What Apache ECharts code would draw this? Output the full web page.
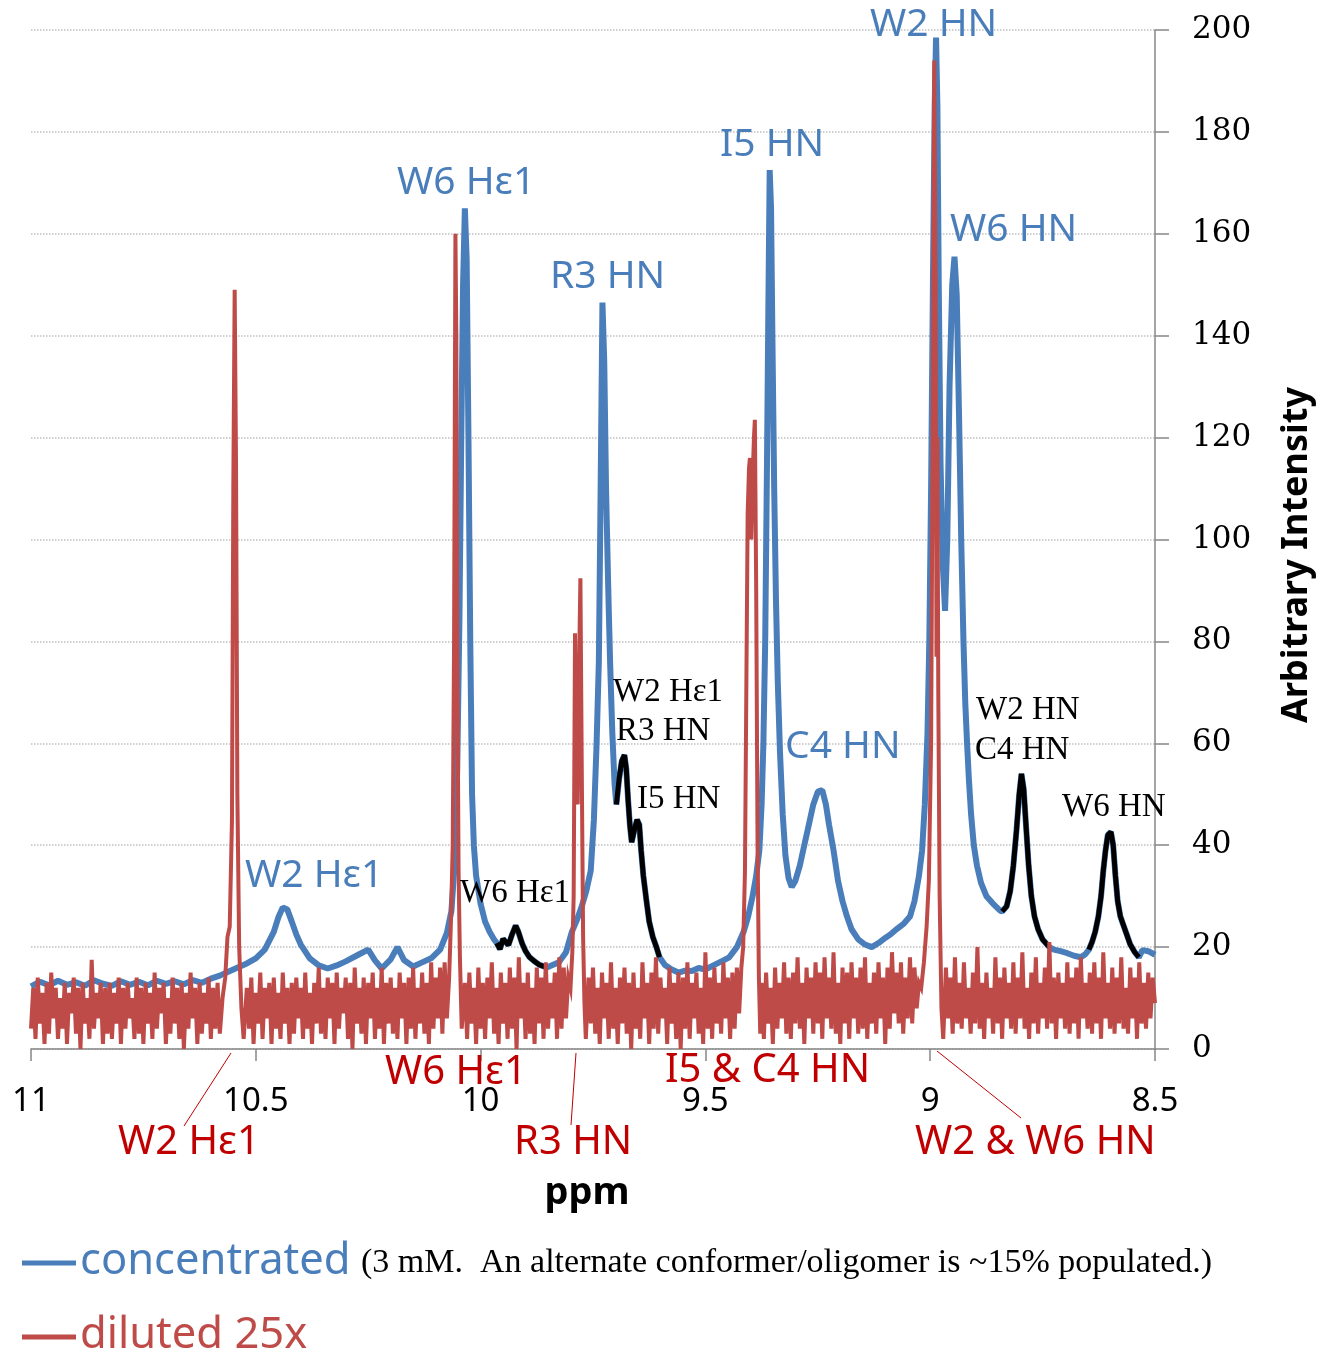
<!DOCTYPE html>
<html><head><meta charset="utf-8">
<script src="https://cdn.jsdelivr.net/npm/echarts@6/dist/echarts.min.js"></script>
<style>html,body{margin:0;padding:0;background:#fff}#chart{width:1331px;height:1354px}</style>
</head><body><div id="chart"></div>
<script>
// ---- axis settings (ppm, intensity) ----
const ppmRange = [8.5, 11];
const intensityRange = [0, 200];

// ---- concentrated spectrum (blue) [ppm, intensity] ----
const concentrated = [
[11.00,12.3],[10.98,13.2],[10.96,12.5],[10.94,13.4],[10.92,12.6],[10.90,13.1],[10.88,12.4],[10.86,13.5],[10.84,12.8],[10.82,12.4],
[10.80,13.3],[10.78,12.6],[10.76,13.2],[10.74,12.5],[10.72,13.4],[10.70,12.8],[10.68,13.3],[10.66,12.7],[10.64,13.5],[10.62,13.0],
[10.60,13.8],[10.58,14.4],[10.56,15.2],[10.54,16.0],[10.52,16.8],[10.50,17.8],[10.48,19.5],[10.46,23.0],[10.45,25.8],[10.44,27.8],
[10.43,27.4],[10.42,25.0],[10.41,22.5],[10.40,20.5],[10.38,17.8],[10.36,16.4],[10.34,15.8],[10.32,16.4],[10.30,17.2],[10.27,18.6],
[10.25,19.5],[10.235,17.4],[10.22,15.8],[10.20,17.6],[10.185,20.0],[10.17,17.4],[10.15,16.2],[10.13,17.0],[10.11,17.8],[10.09,19.5],
[10.075,22.8],[10.065,27],[10.058,36],[10.052,55],[10.047,85],[10.043,120],[10.039,150],[10.035,165],[10.031,155],[10.027,120],
[10.023,80],[10.019,50],[10.015,40],[10.01,34],[10.00,28.5],[9.99,25],[9.98,23],[9.97,21.5],[9.964,20.8],
[9.957,19.6],[9.950,21.6],[9.944,21.0],[9.938,20.4],[9.930,22.5],[9.922,24.2],[9.916,23.0],[9.908,20.8],[9.900,19.2],[9.891,18.0],
[9.880,17.2],[9.869,16.5],[9.853,16.0],
[9.84,16.5],[9.826,17.0],[9.81,19.0],[9.797,23],[9.785,25.5],[9.775,28],[9.765,31],[9.755,35],[9.748,45],[9.742,60],
[9.737,76],[9.733,110],[9.729,146.5],[9.725,135],[9.721,110],[9.716,90],[9.712,76],[9.707,62],[9.702,52],[9.698,48],
[9.692,53],[9.686,56.5],[9.680,57.7],[9.676,55],[9.672,49],[9.668,44],[9.664,40.6],[9.658,43],[9.652,45],[9.647,44],
[9.643,39],[9.638,34],[9.631,29],[9.625,25],[9.617,22],[9.609,20],[9.602,18],
[9.59,16.5],[9.575,15.6],[9.56,15.0],[9.545,15.4],[9.53,15.3],[9.515,15.9],[9.50,15.6],[9.48,16.5],[9.46,17.4],[9.447,18.0],
[9.43,20],[9.415,23],[9.405,26],[9.395,30],[9.387,34],[9.38,39],[9.375,48],[9.371,60],[9.367,80],[9.363,115],
[9.36,145],[9.357,172.5],[9.354,165],[9.351,140],[9.347,110],[9.343,88],[9.339,72],[9.334,58],[9.328,46],[9.322,38],
[9.315,33.5],[9.308,31.8],[9.30,33],[9.29,36],[9.28,40],[9.27,44],[9.26,48],[9.25,50.5],[9.24,50.8],[9.232,48],
[9.225,44],[9.215,39],[9.205,33],[9.195,29],[9.185,26],[9.175,23.5],[9.16,21.5],[9.145,20.5],[9.13,20.0],[9.115,20.8],
[9.10,21.8],[9.088,22.5],[9.075,23.5],[9.06,24.5],[9.045,26],[9.035,29],[9.025,34],[9.018,39],[9.012,48],[9.006,62],
[9.002,80],[8.998,110],[8.994,150],[8.990,185],[8.987,198.5],[8.984,185],[8.981,150],[8.977,115],[8.972,95],[8.967,86],
[8.962,100],[8.957,130],[8.951,150],[8.946,155.5],[8.941,148],[8.936,125],[8.931,100],[8.926,80],[8.922,68],[8.918,60],
[8.914,53],[8.909,46],[8.903,40],[8.896,36],[8.887,32.6],[8.875,30],[8.86,28.5],[8.845,27.2],[8.84,27],
[8.83,28],[8.822,31],[8.815,36],[8.808,43],[8.802,50],[8.797,54],[8.792,51],[8.787,44],[8.781,36],[8.775,30],
[8.768,26],[8.76,23.5],[8.75,21.5],[8.74,20.5],[8.735,20],
[8.725,19.5],[8.71,19.2],[8.695,18.8],[8.68,18.3],[8.665,18.0],[8.655,18.6],[8.647,19.5],
[8.64,21],[8.633,23],[8.626,26],[8.62,30],[8.615,35],[8.61,39],[8.605,42],[8.598,42.6],[8.593,40],[8.588,34],
[8.583,29],[8.577,26],[8.571,24.5],[8.565,23],[8.555,20.5],[8.545,19],[8.536,18],
[8.528,19.4],[8.515,19.2],[8.50,18.5]
];

// ppm ranges of the concentrated trace belonging to the alternate conformer/oligomer (black)
const alternateRanges = [[9.853, 9.964], [9.602, 9.698], [8.735, 8.84], [8.536, 8.647]];

// ---- diluted 25x spectrum (red) [ppm, intensity] ----
const diluted = [
[11.000,4],[10.995,12],[10.990,2],[10.985,14],[10.980,5],[10.975,11],[10.970,1],[10.965,13],[10.960,3],[10.955,15],
[10.950,6],[10.945,12],[10.940,2],[10.935,10],[10.930,4],[10.925,13],[10.920,1],[10.915,11],[10.910,7],[10.905,14],
[10.900,3],[10.895,12],[10.890,0],[10.885,13],[10.880,5],[10.875,10],[10.870,2],[10.865,17.5],[10.860,4],[10.855,11],
[10.850,6],[10.845,13],[10.840,1],[10.835,12],[10.830,3],[10.825,13],[10.820,2],[10.815,11],[10.810,5],[10.805,14],
[10.800,1],[10.795,12],[10.790,4],[10.785,13],[10.780,6],[10.775,10],[10.770,2],[10.765,14],[10.760,3],[10.755,12],
[10.750,1],[10.745,13],[10.740,5],[10.735,11],[10.730,2],[10.725,15],[10.720,4],[10.715,12],[10.710,7],[10.705,13],
[10.700,1],[10.695,10],[10.690,3],[10.685,14],[10.680,5],[10.675,12],[10.670,2],[10.665,13],[10.660,0],[10.655,11],
[10.650,4],[10.645,15],[10.640,6],[10.635,12],[10.630,1],[10.625,13],[10.620,3],[10.615,11],[10.610,5],[10.605,14],
[10.600,2],[10.595,12],[10.590,4],[10.585,13],[10.580,3],
[10.574,10],[10.568,14],[10.563,22],[10.558,24],[10.553,45],[10.550,110],[10.547,149],[10.544,115],[10.541,50],[10.537,20],
[10.532,8],[10.527,2],
[10.520,12],[10.515,4],[10.510,14],[10.505,1],[10.500,11],[10.495,5],[10.490,15],[10.485,2],[10.480,12],[10.475,6],
[10.470,13],[10.465,1],[10.460,14],[10.455,4],[10.450,11],[10.445,2],[10.440,15],[10.435,5],[10.430,12],[10.425,1],
[10.420,13],[10.415,3],[10.410,14],[10.405,6],[10.400,12],[10.395,2],[10.390,15],[10.385,4],[10.380,11],[10.375,1],
[10.370,13],[10.365,5],[10.360,16],[10.355,3],[10.350,12],[10.345,2],[10.340,14],[10.335,6],[10.330,13],[10.325,1],
[10.320,15],[10.315,4],[10.310,12],[10.305,7],[10.300,14],[10.295,2],[10.290,13],[10.285,0],[10.280,16],[10.275,5],
[10.270,12],[10.265,3],[10.260,14],[10.255,1],[10.250,13],[10.245,6],[10.240,15],[10.235,2],[10.230,12],[10.225,4],
[10.220,16],[10.215,1],[10.210,13],[10.205,5],[10.200,14],[10.195,3],[10.190,12],[10.185,2],[10.180,15],[10.175,6],
[10.170,13],[10.165,1],[10.160,14],[10.155,4],[10.150,16],[10.145,2],[10.140,12],[10.135,5],[10.130,15],[10.125,3],
[10.120,13],[10.115,1],[10.110,17],[10.105,4],[10.100,14],[10.095,6],[10.090,16],[10.085,3],[10.080,17],
[10.075,6],[10.070,14],[10.066,25],[10.062,40],[10.059,80],[10.056,160],[10.054,140],[10.052,80],[10.049,35],[10.046,18],
[10.042,4],
[10.035,13],[10.030,2],[10.025,15],[10.020,5],[10.015,12],[10.010,1],[10.005,16],[10.000,4],[9.995,13],[9.990,2],
[9.985,14],[9.980,6],[9.975,17],[9.970,3],[9.965,12],[9.960,1],[9.955,15],[9.950,5],[9.945,13],[9.940,2],
[9.935,16],[9.930,4],[9.925,14],[9.920,0],[9.915,18],[9.910,6],[9.905,13],[9.900,2],[9.895,15],[9.890,3],
[9.885,12],[9.880,1],[9.875,16],[9.870,5],[9.865,14],[9.860,2],[9.855,17],[9.850,4],[9.845,13],[9.840,6],
[9.835,15],[9.830,2],[9.825,18],[9.820,4],[9.815,16],[9.810,6],[9.805,14],
[9.800,12],[9.796,19],[9.793,30],[9.790,81.6],[9.787,55],[9.784,48],[9.781,75],[9.778,92.4],[9.775,55],[9.772,22],
[9.769,9],[9.766,2],
[9.760,14],[9.755,5],[9.750,16],[9.745,3],[9.740,12],[9.735,1],[9.730,15],[9.725,6],[9.720,13],[9.715,2],
[9.710,17],[9.705,4],[9.700,12],[9.695,1],[9.690,14],[9.685,5],[9.680,16],[9.675,3],[9.670,13],[9.665,0],
[9.660,15],[9.655,4],[9.650,12],[9.645,2],[9.640,17],[9.635,6],[9.630,13],[9.625,1],[9.620,15],[9.615,4],
[9.610,18],[9.605,3],[9.600,14],[9.595,6],[9.590,12],[9.585,1],[9.580,16],[9.575,5],[9.570,13],[9.565,2],
[9.560,15],[9.555,0],[9.550,14],[9.545,4],[9.540,17],[9.535,2],[9.530,13],[9.525,6],[9.520,15],[9.515,3],
[9.510,12],[9.505,1],[9.500,19],[9.495,4],[9.490,14],[9.485,2],[9.480,16],[9.475,5],[9.470,13],[9.465,3],
[9.460,17],[9.455,6],[9.450,14],[9.445,2],[9.440,15],[9.435,4],[9.430,16],[9.425,7],
[9.420,16],[9.416,20],[9.412,35],[9.409,70],[9.406,105],[9.403,114],[9.401,116],[9.398,100],[9.395,112],[9.392,120],
[9.390,123.5],[9.387,90],[9.384,40],[9.381,14],[9.378,3],
[9.375,13],[9.370,2],[9.365,15],[9.360,5],[9.355,12],[9.350,1],[9.345,16],[9.340,4],[9.335,13],[9.330,6],
[9.325,17],[9.320,3],[9.315,14],[9.310,2],[9.305,15],[9.300,5],[9.295,18],[9.290,4],[9.285,13],[9.280,1],
[9.275,16],[9.270,6],[9.265,14],[9.260,3],[9.255,17],[9.250,5],[9.245,15],[9.240,2],[9.235,18],[9.230,6],
[9.225,14],[9.220,4],[9.215,19],[9.210,3],[9.205,13],[9.200,1],[9.195,16],[9.190,5],[9.185,15],[9.180,2],
[9.175,17],[9.170,6],[9.165,14],[9.160,3],[9.155,16],[9.150,4],[9.145,18],[9.140,2],[9.135,13],[9.130,5],
[9.125,15],[9.120,3],[9.115,17],[9.110,6],[9.105,14],[9.100,1],[9.095,16],[9.090,4],[9.085,19],[9.080,7],
[9.075,15],[9.070,5],[9.065,17],[9.060,3],[9.055,14],[9.050,6],[9.045,18],[9.040,5],[9.035,16],[9.030,8],
[9.025,13],
[9.020,12],[9.014,17],[9.008,24],[9.003,33],[8.998,60],[8.994,130],[8.991,194],[8.988,150],[8.986,77],[8.984,120],
[8.982,70],[8.979,30],[8.975,8],[8.971,2],
[8.965,16],[8.960,6],[8.955,14],[8.950,3],[8.945,18],[8.940,5],[8.935,13],[8.930,4],[8.925,17],[8.920,6],
[8.915,12],[8.910,3],[8.905,15],[8.900,5],[8.895,20],[8.890,4],[8.885,13],[8.880,2],[8.875,15],[8.870,6],
[8.865,12],[8.860,3],[8.855,18],[8.850,5],[8.845,14],[8.840,2],[8.835,16],[8.830,6],[8.825,13],[8.820,4],
[8.815,17],[8.810,3],[8.805,14],[8.800,6],[8.795,19],[8.790,4],[8.785,12],[8.780,2],[8.775,15],[8.770,5],
[8.765,18],[8.760,3],[8.755,13],[8.750,6],[8.745,16],[8.740,4],[8.735,21],[8.730,5],[8.725,14],[8.720,2],
[8.715,15],[8.710,6],[8.705,13],[8.700,4],[8.695,17],[8.690,3],[8.685,14],[8.680,5],[8.675,16],[8.670,2],
[8.665,18],[8.660,6],[8.655,13],[8.650,4],[8.645,15],[8.640,3],[8.635,17],[8.630,5],[8.625,14],[8.620,2],
[8.615,19],[8.610,6],[8.605,13],[8.600,4],[8.595,16],[8.590,3],[8.585,14],[8.580,5],[8.575,18],[8.570,4],
[8.565,12],[8.560,3],[8.555,16],[8.550,6],[8.545,14],[8.540,2],[8.535,17],[8.530,5],[8.525,13],[8.520,4],
[8.515,15],[8.510,6],[8.505,14],[8.500,9]
];

const BLUE = '#4a7ebb', RED = '#be4b48', LABEL_RED = '#c00000';
const SANS = '"Noto Sans", "Open Sans", sans-serif';
const SERIF = '"Liberation Serif", "DejaVu Serif", serif';

const alternateSeries = alternateRanges.map(([lo, hi]) => ({
  type: 'line', name: 'alternate', showSymbol: false, animation: false, z: 3,
  data: concentrated.filter(p => p[0] >= lo - 1e-9 && p[0] <= hi + 1e-9),
  lineStyle: { color: '#000', width: 5 }, itemStyle: { color: '#000' }
}));

function txt(text, x, y, font, fill, align) {
  return { type: 'text', x: x, y: y, z: 100, style: { text: text, font: font, fill: fill, align: align || 'left', verticalAlign: 'middle' } };
}
function ln(x1, y1, x2, y2, color, w) {
  return { type: 'line', z: 100, shape: { x1: x1, y1: y1, x2: x2, y2: y2 }, style: { stroke: color, lineWidth: w } };
}

const blueFont = '39px ' + SANS;
const redFont = '40px ' + SANS;
const blackFont = '33px ' + SERIF;
const graphics = [
  // blue annotations
  txt('W2 HN', 870, 25, blueFont, BLUE), txt('I5 HN', 720, 145, blueFont, BLUE), txt('W6 HN', 950, 230, blueFont, BLUE),
  txt('W6 H\u03b51', 397, 183, blueFont, BLUE), txt('R3 HN', 550, 277, blueFont, BLUE), txt('C4 HN', 785, 747, blueFont, BLUE),
  txt('W2 H\u03b51', 245, 876, blueFont, BLUE),
  // red annotations
  txt('W6 H\u03b51', 385, 1073, redFont, LABEL_RED), txt('I5 & C4 HN', 665, 1071, redFont, LABEL_RED),
  txt('W2 H\u03b51', 118, 1143, redFont, LABEL_RED), txt('R3 HN', 514, 1143, redFont, LABEL_RED),
  txt('W2 & W6 HN', 915, 1143, redFont, LABEL_RED),
  ln(184, 1126, 231, 1053, LABEL_RED, 1), ln(571, 1125, 576, 1053, LABEL_RED, 1), ln(1021, 1118, 937, 1051, LABEL_RED, 1),
  // black annotations
  txt('W6 H\u03b51', 460, 893, blackFont, '#000'), txt('W2 H\u03b51', 613, 692, blackFont, '#000'),
  txt('R3 HN', 616, 731, blackFont, '#000'), txt('I5 HN', 637, 799, blackFont, '#000'),
  txt('W2 HN', 976, 710, blackFont, '#000'), txt('C4 HN', 975, 750, blackFont, '#000'),
  txt('W6 HN', 1062, 807, blackFont, '#000'),
  // axis names
  txt('ppm', 587, 1193, 'bold 38px ' + SANS, '#000', 'center'),
  { type: 'text', x: 1297, y: 555, rotation: Math.PI / 2, z: 100,
    style: { text: 'Arbitrary Intensity', font: 'bold 36px ' + SANS, fill: '#000', align: 'center', verticalAlign: 'middle' } },
  // legend
  ln(22, 1263, 76, 1263, BLUE, 5), txt('concentrated', 80, 1262, '43.5px ' + SANS, BLUE),
  txt('(3 mM.  An alternate conformer/oligomer is ~15% populated.)', 361, 1263, '34px ' + SERIF, '#000'),
  ln(22, 1337, 76, 1337, RED, 5), txt('diluted 25x', 80, 1336, '43.5px ' + SANS, RED)
];

const chart = echarts.init(document.getElementById('chart'), null, { renderer: 'canvas' });
chart.setOption({
  animation: false,
  backgroundColor: '#fff',
  grid: { left: 31, right: 176, top: 30, bottom: 305, containLabel: false },
  xAxis: {
    type: 'value', min: ppmRange[0], max: ppmRange[1], interval: 0.5, inverse: true,
    axisLine: { show: true, onZero: false, lineStyle: { color: '#868686', width: 1.5 } },
    axisTick: { show: true, length: 12, lineStyle: { color: '#868686', width: 1.5 } },
    axisLabel: { margin: 36, fontSize: 33, fontFamily: SANS, color: '#000' },
    splitLine: { show: false }
  },
  yAxis: {
    type: 'value', position: 'right', min: intensityRange[0], max: intensityRange[1], interval: 20,
    axisLine: { show: true, lineStyle: { color: '#868686', width: 1.5 } },
    axisTick: { show: true, length: 14, lineStyle: { color: '#868686', width: 1.5 } },
    axisLabel: { margin: 37, fontSize: 31, fontFamily: '"DejaVu Serif", serif', color: '#000' },
    splitLine: { show: true, lineStyle: { color: '#c0c0c0', type: 'dotted', width: 1.5 } }
  },
  series: [
    { type: 'line', name: 'concentrated', showSymbol: false, z: 2, data: concentrated,
      lineStyle: { color: BLUE, width: 6 }, itemStyle: { color: BLUE } },
    ...alternateSeries,
    { type: 'line', name: 'diluted 25x', showSymbol: false, z: 4, data: diluted,
      lineStyle: { color: RED, width: 4, join: 'miter' }, itemStyle: { color: RED } }
  ],
  graphic: graphics
});
</script>
</body></html>
